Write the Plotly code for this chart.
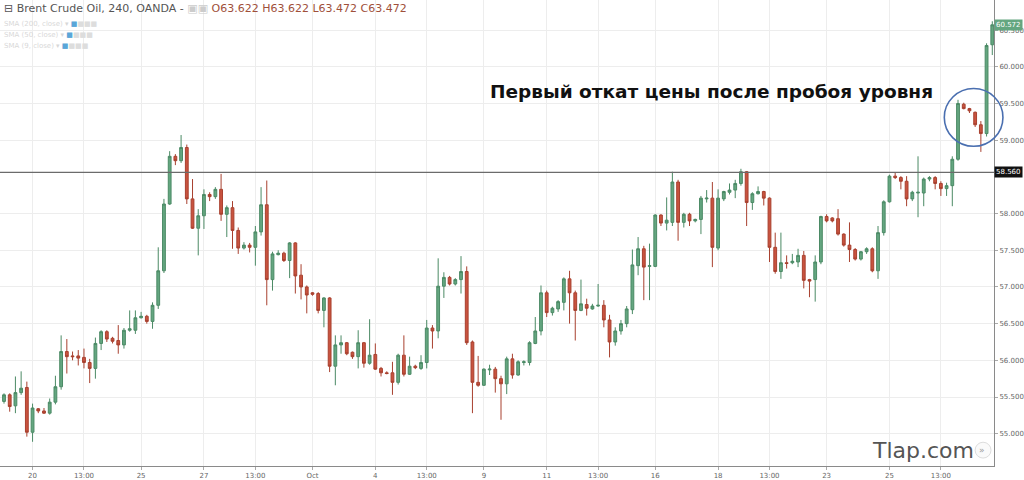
import plotly.graph_objects as go

# OHLC values (4h candles)
opens = [55.44,55.53,55.38,55.56,55.63,55.02,55.34,55.31,55.28,55.43,
         55.64,56.12,56.06,56.06,56.04,55.97,55.89,56.23,56.39,56.30,
         56.27,56.21,56.41,56.41,56.58,56.60,56.53,56.75,57.22,58.13,
         58.78,58.72,58.90,58.20,57.80,57.97,58.26,58.23,58.33,57.99,
         58.08,57.77,57.53,57.57,57.54,57.75,58.12,57.10,57.44,57.46,
         57.36,57.60,57.16,57.00,56.92,56.91,56.68,56.85,55.92,56.21,
         56.24,56.11,56.05,56.24,55.96,56.08,55.89,55.83,55.83,55.70,
         56.07,55.81,55.92,55.89,55.97,56.44,56.40,57.01,57.13,57.04,
         57.10,57.21,56.25,55.70,55.66,55.87,55.88,55.75,55.68,56.02,
         55.80,55.97,55.97,56.23,56.40,56.92,56.65,56.70,56.79,57.11,
         56.92,56.68,56.76,56.70,56.74,56.75,56.55,56.25,56.40,56.50,
         56.69,57.29,57.52,57.28,57.28,57.98,57.87,57.88,58.43,57.88,
         57.99,57.90,57.92,58.20,58.21,57.53,58.20,58.29,58.32,58.41,
         58.57,58.15,58.27,58.30,58.21,57.54,57.21,57.33,57.33,57.34,
         57.43,57.10,57.10,57.34,57.96,57.94,57.93,57.72,57.57,57.51,
         57.38,57.48,57.52,57.22,57.74,58.16,58.51,58.49,58.44,58.20,
         58.28,58.28,58.47,58.49,58.41,58.34,58.38,58.74,59.49,59.43,
         59.38,59.21,59.09,60.30]
highs = [55.55,55.55,55.78,55.85,55.71,55.41,55.35,55.35,55.48,55.79,
         56.34,56.29,56.12,56.14,56.16,56.02,56.31,56.41,56.41,56.32,
         56.48,56.44,56.68,56.68,56.66,56.62,56.79,57.54,58.20,58.85,
         58.81,59.07,58.94,58.47,58.06,58.33,58.29,58.36,58.54,58.11,
         58.17,57.81,57.61,57.60,57.83,58.36,58.45,57.48,57.50,57.48,
         57.61,57.61,57.31,57.02,56.93,56.93,56.86,56.86,56.34,56.34,
         56.25,56.12,56.41,56.25,56.56,56.23,55.91,55.85,55.98,56.09,
         56.34,56.05,55.94,56.07,56.55,56.48,57.39,57.20,57.15,57.12,
         57.42,57.28,56.27,56.06,55.89,55.94,55.91,55.79,56.05,56.09,
         56.00,56.00,56.26,56.59,57.02,56.95,56.73,56.82,57.13,57.22,
         56.95,57.10,56.84,56.77,57.04,56.82,56.62,56.45,56.55,56.74,
         57.51,57.68,57.56,57.59,57.99,57.99,58.22,58.57,58.46,58.01,
         58.01,57.93,58.24,58.32,58.43,58.33,58.31,58.41,58.46,58.61,
         58.58,58.29,58.37,58.31,58.22,57.74,57.74,57.43,57.45,57.52,
         57.49,57.11,57.43,57.97,57.99,57.95,58.06,57.73,57.88,57.53,
         57.49,57.54,57.54,57.83,58.18,58.53,58.56,58.51,58.51,58.31,
         58.78,58.49,58.51,58.51,58.44,58.42,58.78,59.55,59.51,59.44,
         59.39,59.26,60.32,60.62]
lows = [55.41,55.30,55.28,55.53,54.96,54.89,55.28,55.27,55.26,55.40,
        55.60,55.82,56.00,55.93,55.89,55.69,55.75,56.14,56.25,56.23,
        56.09,56.16,56.39,56.36,56.57,56.50,56.43,56.70,57.19,58.12,
        58.66,58.69,58.13,57.79,57.43,57.79,58.17,58.20,57.90,57.68,
        57.52,57.45,57.51,57.47,57.29,57.70,56.75,56.95,57.43,57.34,
        57.12,56.91,56.83,56.64,56.88,56.64,56.45,55.84,55.66,56.09,
        56.07,56.02,55.89,55.90,55.94,55.87,55.78,55.81,55.53,55.67,
        55.78,55.80,55.88,55.87,55.89,56.16,56.30,56.85,57.02,57.02,
        56.91,56.21,55.28,55.64,55.65,55.80,55.56,55.19,55.54,55.75,
        55.79,55.93,55.93,56.22,56.34,56.59,56.61,56.66,56.68,56.50,
        56.27,56.67,56.61,56.69,56.73,56.45,56.04,56.20,56.35,56.45,
        56.63,57.16,56.82,56.82,57.27,57.83,57.77,57.83,57.63,57.81,
        57.83,57.88,57.72,58.15,57.27,57.50,58.17,58.26,58.21,58.38,
        57.83,58.05,58.26,58.11,57.34,57.18,57.11,57.25,57.31,57.27,
        56.98,56.86,56.80,57.31,57.88,57.88,57.70,57.55,57.34,57.36,
        57.36,57.45,57.20,57.11,57.70,58.15,58.47,58.33,58.10,58.17,
        57.95,58.10,58.44,58.33,58.24,58.24,58.10,58.72,59.42,59.37,
        59.18,58.84,59.05,60.16]
closes = [55.53,55.37,55.56,55.62,55.02,55.35,55.31,55.28,55.43,55.64,
          56.12,56.05,56.05,56.03,55.97,55.89,56.23,56.39,56.29,56.26,
          56.21,56.41,56.43,56.58,56.60,56.53,56.75,57.22,58.13,58.78,
          58.72,58.90,58.20,57.80,57.97,58.26,58.23,58.33,57.99,58.08,
          57.77,57.53,57.57,57.54,57.75,58.12,57.10,57.45,57.46,57.36,
          57.60,57.15,57.00,56.89,56.90,56.68,56.85,55.92,56.21,56.24,
          56.09,56.05,56.24,55.96,56.07,55.88,55.83,55.82,55.70,56.07,
          55.81,55.92,55.90,55.97,56.44,56.40,57.01,57.13,57.04,57.10,
          57.21,56.24,55.70,55.66,55.88,55.88,55.75,55.68,56.02,55.80,
          55.98,55.98,56.24,56.40,56.92,56.65,56.71,56.80,57.11,56.92,
          56.68,56.77,56.71,56.74,56.75,56.55,56.25,56.40,56.50,56.70,
          57.30,57.52,57.27,57.29,57.98,57.87,57.91,58.43,57.88,57.99,
          57.90,57.92,58.21,58.21,57.54,58.21,58.30,58.32,58.41,58.57,
          58.15,58.27,58.30,58.21,57.54,57.21,57.33,57.32,57.35,57.43,
          57.09,57.08,57.34,57.96,57.90,57.90,57.72,57.57,57.51,57.38,
          57.48,57.52,57.22,57.74,58.16,58.51,58.49,58.44,58.20,58.29,
          58.29,58.47,58.49,58.41,58.34,58.38,58.74,59.50,59.43,59.40,
          59.21,59.09,60.29,60.572]

x_tick_pos = [5, 14, 24, 35, 44, 54, 65, 74, 84, 95, 104, 114, 125, 134, 144, 155, 164]
x_tick_text = ["20", "13:00", "25", "27", "13:00", "Oct", "4", "13:00", "9",
               "11", "13:00", "16", "18", "13:00", "23", "25", "13:00"]
# 58.500 is hidden behind the level label in the reference
y_ticks = [55.0, 55.5, 56.0, 56.5, 57.0, 57.5, 58.0, 59.0, 59.5, 60.0, 60.5]
level = 58.56
last_price = closes[-1]

GREEN = "#64a680"
GREEN_LINE = "#4b8a65"
RED = "#c9533f"
RED_LINE = "#a8402f"

idx = list(range(len(opens)))

fig = go.Figure()
fig.add_trace(go.Candlestick(
    x=idx, open=opens, high=highs, low=lows, close=closes,
    increasing=dict(fillcolor=GREEN, line=dict(color=GREEN_LINE, width=1)),
    decreasing=dict(fillcolor=RED, line=dict(color=RED_LINE, width=1)),
    whiskerwidth=0, showlegend=False, hoverinfo="skip"))

annotations = [
    dict(text="Первый откат цены после пробоя уровня", x=123.8, y=59.66,
         xref="x", yref="y", xanchor="center", yanchor="middle", showarrow=False,
         font=dict(family="DejaVu Sans", size=18.5, color="#111111", weight="bold")),
    dict(text=f"{level:.3f}", x=1.0, y=level, xref="paper", yref="y",
         xanchor="left", yanchor="middle", showarrow=False, bgcolor="#111111",
         borderpad=1, font=dict(family="DejaVu Sans", size=7, color="#ffffff")),
    dict(text=f"{last_price:.3f}", x=1.0, y=last_price, xref="paper", yref="y",
         xanchor="left", yanchor="middle", showarrow=False, bgcolor=GREEN,
         borderpad=1, font=dict(family="DejaVu Sans", size=7, color="#ffffff")),
    dict(text="Tlap.com", x=0.929, y=0.034, xref="paper", yref="paper",
         xanchor="center", yanchor="middle", showarrow=False,
         font=dict(family="DejaVu Sans", size=22, color="#555555")),
    dict(text="»", x=0.988, y=0.034, xref="paper", yref="paper",
         xanchor="center", yanchor="middle", showarrow=False,
         font=dict(family="DejaVu Sans", size=9, color="#999999")),
    dict(text="⊟ Brent Crude Oil, 240, OANDA - <span style='color:#cccccc'>▣▣</span> "
              "<span style='color:#a0503a'>O63.622 H63.622 L63.472 C63.472</span>",
         x=0.002, y=0.999, xref="paper", yref="paper", xanchor="left", yanchor="top",
         showarrow=False, font=dict(family="DejaVu Sans", size=11, color="#555555")),
]
sma_rows = ["SMA (200, close) ▾", "SMA (50, close) ▾", "SMA (9, close) ▾"]
for i, t in enumerate(sma_rows):
    annotations.append(dict(
        text=t + " <span style='color:#5aa6d8'>■</span><span style='color:#dddddd'>■■■</span>",
        x=0.002, y=0.962 - i * 0.024, xref="paper", yref="paper",
        xanchor="left", yanchor="top", showarrow=False,
        font=dict(family="DejaVu Sans", size=7, color="#d8d8d8")))

shapes = [
    dict(type="line", xref="paper", yref="y", x0=0, x1=1, y0=level, y1=level,
         line=dict(color="#6b6b6b", width=1.2)),
    # highlight ring around the first pullback; it crosses the price axis
    dict(type="circle", xref="paper", yref="paper", x0=0.950, x1=1.009,
         y0=0.686, y1=0.810, line=dict(color="#4a6fb0", width=1.6)),
    dict(type="circle", xref="paper", yref="paper", x0=0.981, x1=0.997,
         y0=0.017, y1=0.051, line=dict(color="#dddddd", width=1), fillcolor="#fafafa",
         layer="below"),
]

fig.update_layout(
    width=1024, height=480,
    margin=dict(l=0, r=27, t=0, b=12),
    paper_bgcolor="#ffffff", plot_bgcolor="#ffffff",
    annotations=annotations, shapes=shapes,
    xaxis=dict(range=[-0.7, 173.3], tickmode="array", tickvals=x_tick_pos,
               ticktext=x_tick_text, showgrid=True, gridcolor="#ededed",
               showline=True, linecolor="#8a8a8a", linewidth=1,
               ticks="outside", ticklen=3, tickcolor="#aaaaaa",
               tickfont=dict(family="DejaVu Sans", size=7, color="#666666"),
               rangeslider=dict(visible=False), zeroline=False, fixedrange=True),
    yaxis=dict(range=[54.56, 60.91], side="right", tickmode="array",
               tickvals=y_ticks, ticktext=[f"{v:.3f}" for v in y_ticks],
               showgrid=True, gridcolor="#ededed", showline=True,
               linecolor="#8a8a8a", linewidth=1, ticks="outside", ticklen=3,
               tickcolor="#aaaaaa",
               tickfont=dict(family="DejaVu Sans", size=7, color="#666666"),
               zeroline=False, fixedrange=True),
)

fig.write_html("out.html")
